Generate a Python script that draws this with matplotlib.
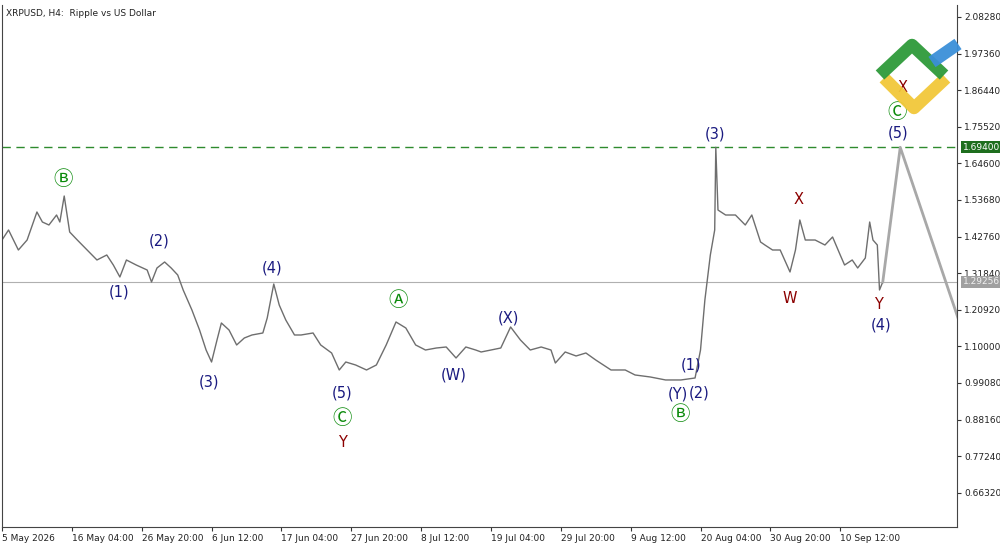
import matplotlib
matplotlib.use("Agg")
import matplotlib.pyplot as plt
from matplotlib.lines import Line2D

plt.rcParams['font.family'] = ['DejaVu Sans', 'Noto Sans CJK SC']

bars = [0, 6, 15, 23, 32, 37, 43, 50, 53, 57, 62, 69, 78, 87, 96, 102, 108, 114, 123, 133,
        137, 142, 149, 155, 161, 166, 174, 181, 187, 192, 197, 201, 208, 215, 222, 229, 239, 243, 249, 254,
        260, 268, 274, 285, 292, 302, 309, 315, 324, 334, 343, 352, 361, 370, 379, 388, 398, 407, 416, 425,
        434, 439, 448, 457, 466, 475, 484, 494, 503, 507, 516, 526, 535, 544, 558, 571, 580, 594, 608, 622,
        635, 640, 644, 649, 653, 654, 656, 663, 672, 681, 687, 695, 699, 706, 713, 722, 727, 731, 736, 745,
        754, 761, 768, 772, 779, 784, 791, 795, 798, 802, 804, 807]
close = [1.4174, 1.4473, 1.3876, 1.4174, 1.5010, 1.4711, 1.4622, 1.4920, 1.4711, 1.5487, 1.4413, 1.4174, 1.3876, 1.3578, 1.3727, 1.3428, 1.3071, 1.3578, 1.3428, 1.3279,
         1.2921, 1.3339, 1.3518, 1.3339, 1.3130, 1.2683, 1.2086, 1.1489, 1.0892, 1.0534, 1.1191, 1.1698, 1.1489, 1.1042, 1.1250, 1.1340, 1.1400, 1.1847, 1.2861, 1.2235,
         1.1788, 1.1340, 1.1340, 1.1400, 1.1042, 1.0803, 1.0296, 1.0534, 1.0445, 1.0296, 1.0445, 1.1042, 1.1728, 1.1549, 1.1042, 1.0892, 1.0952, 1.0982, 1.0654, 1.0982,
         1.0892, 1.0833, 1.0892, 1.0952, 1.1579, 1.1191, 1.0892, 1.0982, 1.0892, 1.0504, 1.0833, 1.0714, 1.0803, 1.0594, 1.0296, 1.0296, 1.0147, 1.0087, 0.9998, 0.9998,
         1.0057, 1.0892, 1.2384, 1.3727, 1.4473, 1.6940, 1.5069, 1.4920, 1.4920, 1.4622, 1.4920, 1.4115, 1.4025, 1.3876, 1.3876, 1.3220, 1.3876, 1.4771, 1.4174, 1.4174,
         1.4025, 1.4264, 1.3727, 1.3428, 1.3578, 1.3339, 1.3638, 1.4711, 1.4174, 1.4025, 1.2683, 1.2926]
proj_bars = [807, 823, 900]
proj_price = [1.2926, 1.6940, 0.9530]

level_main = 1.69400
level_cur = 1.29256

yticks = [2.08280, 1.97360, 1.86440, 1.75520, 1.64600, 1.53680, 1.42760, 1.31840,
          1.20920, 1.10000, 0.99080, 0.88160, 0.77240, 0.66320]
xtick_bars = [0, 64, 128, 192, 256, 320, 384, 448, 512, 576, 640, 704, 768]
xtick_labels = ["5 May 2026", "16 May 04:00", "26 May 20:00", "6 Jun 12:00", "17 Jun 04:00",
                "27 Jun 20:00", "8 Jul 12:00", "19 Jul 04:00", "29 Jul 20:00", "9 Aug 12:00",
                "20 Aug 04:00", "30 Aug 20:00", "10 Sep 12:00"]

NAVY = "#1a1a80"
RED = "#8b0000"
GREEN = "#0a8a0a"
waves = [("Ⓑ", 56, 1.599, GREEN), ("(2)", 144, 1.414, NAVY), ("(1)", 107, 1.262, NAVY),
         ("(3)", 190, 0.994, NAVY), ("(4)", 247, 1.334, NAVY), ("(5)", 312, 0.961, NAVY),
         ("Ⓒ", 312, 0.886, GREEN), ("Y", 312, 0.812, RED), ("Ⓐ", 363, 1.238, GREEN),
         ("(W)", 414, 1.015, NAVY), ("(X)", 464, 1.185, NAVY), ("(Y)", 619, 0.957, NAVY),
         ("Ⓑ", 621, 0.897, GREEN), ("(1)", 631, 1.045, NAVY), ("(2)", 639, 0.961, NAVY),
         ("(3)", 653, 1.734, NAVY), ("X", 730, 1.537, RED), ("W", 722, 1.244, RED),
         ("Y", 803, 1.224, RED), ("(4)", 805, 1.164, NAVY), ("(5)", 821, 1.737, NAVY),
         ("Ⓒ", 820, 1.799, GREEN), ("X", 825, 1.871, RED)]


def main():
    fig = plt.figure(figsize=(10, 5.45), dpi=100)
    ax = fig.add_axes([0.002, 1 - 527 / 545, 0.955, 522 / 545])
    ax.set_xlim(0, 875)
    ax.set_ylim(0.5611, 2.1186)

    ax.axhline(level_main, color="#2e8b2e", lw=1, ls=(0, (6, 4)))
    ax.axhline(level_cur, color="#b0b0b0", lw=0.8)
    ax.plot(bars, close, color="#6e6e6e", lw=1.0)
    ax.plot(proj_bars, proj_price, color="#a8a8a8", lw=2, clip_on=True)

    for txt, b, p, c in waves:
        fs = 14 if c == GREEN else 10.5
        ax.text(b, p, txt, color=c, fontsize=fs, ha="center", va="center")

    ax.yaxis.tick_right()
    ax.set_yticks(yticks)
    ax.set_yticklabels(["%.5f" % v for v in yticks])
    ax.set_xticks(xtick_bars)
    ax.set_xticklabels(xtick_labels, ha="left")
    ax.tick_params(labelsize=6.5, length=3, color="#333333", labelcolor="#222222", pad=2)
    ax.spines["top"].set_visible(False)
    for s in ["left", "right", "bottom"]:
        ax.spines[s].set_color("#444444")

    ax.text(0.004, 0.992, "XRPUSD, H4:  Ripple vs US Dollar", transform=ax.transAxes,
            fontsize=6.5, va="top", color="#222222")

    ax.annotate("%.5f" % level_main, xy=(1, level_main), xycoords=("axes fraction", "data"),
                xytext=(4, 0), textcoords="offset points", fontsize=6.5, va="center",
                color="white", bbox=dict(boxstyle="square,pad=0.15", fc="#1e6e1e", ec="none"))
    ax.annotate("%.5f" % level_cur, xy=(1, level_cur), xycoords=("axes fraction", "data"),
                xytext=(4, 0), textcoords="offset points", fontsize=6.5, va="center",
                color="#f0f0f0", bbox=dict(boxstyle="square,pad=0.15", fc="#a0a0a0", ec="none"))

    # logo
    W, H = 1000, 545

    def seg(pts, c, lw):
        xs = [p[0] / W for p in pts]
        ys = [1 - p[1] / H for p in pts]
        fig.add_artist(Line2D(xs, ys, color=c, lw=lw, solid_capstyle="butt", alpha=0.95))

    seg([(884, 78), (914, 108), (946, 78)], "#f2c83a", 9)
    seg([(880, 75), (912, 45), (944, 75)], "#2e9a3a", 9)
    seg([(932, 62), (958, 44)], "#3b8fd8", 9)

    fig.savefig("out.png", dpi=100)


if __name__ == "__main__":
    main()
